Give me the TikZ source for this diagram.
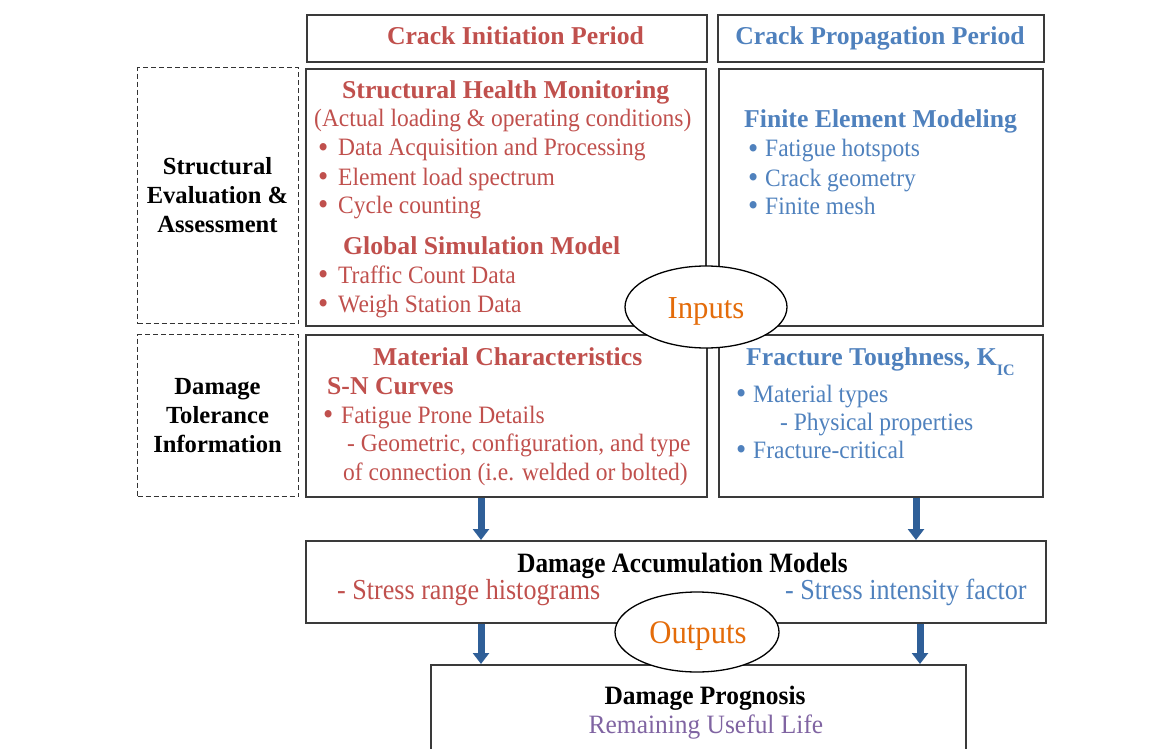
\documentclass[tikz,border=0pt]{standalone}
\usepackage{fontspec}
\setmainfont{Liberation Serif}
\newfontfamily\fsA[FakeStretch=0.94]{Liberation Serif}
\newfontfamily\fsB[FakeStretch=0.90]{Liberation Serif}
\newfontfamily\fsC[FakeStretch=0.96]{Liberation Serif}
\newfontfamily\fsD[FakeStretch=0.93]{Liberation Serif}
\usetikzlibrary{arrows.meta,shapes.geometric}
\definecolor{cred}{HTML}{C0504D}
\definecolor{cblue}{HTML}{4F81BD}
\definecolor{corange}{HTML}{E46C0A}
\definecolor{cpurple}{HTML}{8064A2}
\definecolor{carrow}{HTML}{2F5F98}
\definecolor{cedge}{HTML}{3A3A3A}
\definecolor{cdash}{HTML}{333333}
\newcommand\fsz[1]{\fontsize{#1}{#1}\selectfont}
\newcommand\bl[1]{\makebox[#1pt][l]{\hspace*{-1pt}\raisebox{-1.2pt}{\fsz{31}•}}}
\begin{document}
\begin{tikzpicture}[x=1pt,y=-1pt,
  box/.style={draw=cedge,line width=1.6pt,inner sep=0,anchor=north west},
  dbox/.style={draw=cdash,line width=1.4pt,dash pattern=on 5pt off 3pt,inner sep=0,anchor=north west},
  ell/.style={ellipse,draw=black,line width=1.3pt,fill=white,inner sep=0},
  arr/.style={draw=carrow,line width=7pt,-{Triangle[width=16pt,length=11pt]}},
  tx/.style={inner sep=0,anchor=base west},
  tc/.style={inner sep=0,anchor=base},
  hb/.style={font=\bfseries\fsz{25.7}},
  rg/.style={font=\fsA\fsz{25}},
  lb/.style={tc,font=\bfseries\fsz{24.6}},
]
\useasboundingbox (0,0) rectangle (1167,749);
\clip (0,0) rectangle (1167,749);

% boxes
\node[box,minimum width=400,minimum height=47] (hL) at (306,14) {};
\node[box,minimum width=326,minimum height=47] (hR) at (717,14) {};
\node[box,minimum width=400,minimum height=257] (shm) at (305,68) {};
\node[box,minimum width=324,minimum height=257] (fem) at (718,68) {};
\node[box,minimum width=401,minimum height=162] (mat) at (305,334) {};
\node[box,minimum width=324,minimum height=162] (frac) at (718,334) {};
\node[dbox,minimum width=161,minimum height=256] (d1) at (137,67) {};
\node[dbox,minimum width=161,minimum height=162] (d2) at (137,334) {};
\node[box,minimum width=740,minimum height=82] (acc) at (305,540) {};
\node[box,minimum width=535,minimum height=120] (prog) at (430,664) {};

% arrows
\coordinate (xa) at (481,0);
\coordinate (xb) at (916,0);
\coordinate (xc) at (920,0);
\draw[arr] (mat.south -| xa) -- (acc.north -| xa);
\draw[arr] (frac.south -| xb) -- (acc.north -| xb);
\draw[arr] (acc.south -| xa) -- (prog.north -| xa);
\draw[arr] (acc.south -| xc) -- (prog.north -| xc);

% ellipses
\node[ell,minimum width=162,minimum height=82] (inp) at (706,307) {};
\node[ell,minimum width=164,minimum height=80] (outp) at (697,632) {};
\node[tc,text=corange,font=\fsC\fsz{32}] (inpt) at (706,318) {Inputs};
\node[tc,text=corange,font=\fsD\fsz{33}] (outpt) at (698,643) {Outputs};

% headers
\node[tc,hb,text=cred] (hLt) at (515.5,45) {Crack Initiation Period};
\node[tc,hb,text=cblue] (hRt) at (880,45) {Crack Propagation Period};

% left labels
\node[lb] (l1) at (217.5,175) {Structural};
\node[lb] (l2) at (217.5,203.5) {Evaluation \&};
\node[lb] (l3) at (217.5,232) {Assessment};
\node[lb] (l4) at (217.5,394.5) {Damage};
\node[lb] (l5) at (217.5,423.5) {Tolerance};
\node[lb] (l6) at (217.5,452.5) {Information};

% SHM box
\node[tx,hb,text=cred] (s1) at (342,99) {Structural Health Monitoring};
\node[tx,rg,text=cred] (s2) at (314,127) {(Actual loading \& operating conditions)};
\node[tx,rg,text=cred] (s3) at (319,156) {\bl{19}Data Acquisition and Processing};
\node[tx,rg,text=cred] (s4) at (319,185) {\bl{19}Element load spectrum};
\node[tx,rg,text=cred] (s5) at (319,213) {\bl{19}Cycle counting};
\node[tx,hb,text=cred] (s6) at (343,254) {Global Simulation Model};
\node[tx,rg,text=cred] (s7) at (319,283) {\bl{19}Traffic Count Data};
\node[tx,rg,text=cred] (s8) at (319,312) {\bl{19}Weigh Station Data};

% FEM box
\node[tx,hb,text=cblue] (f1) at (744,128) {Finite Element Modeling};
\node[tx,rg,text=cblue] (f2) at (749,157) {\bl{16}Fatigue hotspots};
\node[tx,rg,text=cblue] (f3) at (749,186) {\bl{16}Crack geometry};
\node[tx,rg,text=cblue] (f4) at (749,214) {\bl{16}Finite mesh};

% Material box
\node[tx,hb,text=cred] (m1) at (373,365) {Material Characteristics};
\node[tx,hb,text=cred] (m2) at (327,394) {S-N Curves};
\node[tx,rg,text=cred] (m3) at (324,423) {\bl{17}Fatigue Prone Details};
\node[tx,rg,text=cred] (m4) at (347,451) {- Geometric, configuration, and type};
\node[tx,rg,text=cred] (m5) at (343,480) {of connection (i.e. welded or bolted)};

% Fracture box
\node[tx,hb,text=cblue] (k1) at (746,365) {Fracture Toughness, K\raisebox{-10pt}{\fsz{16}IC}};
\node[tx,rg,text=cblue] (k2) at (737,402) {\bl{16}Material types};
\node[tx,rg,text=cblue] (k3) at (780,430) {- Physical properties};
\node[tx,rg,text=cblue] (k4) at (737,458) {\bl{16}Fracture-critical};

% accumulation
\node[tc,font=\fsB\bfseries\fsz{28}] (a1) at (682.5,572) {Damage Accumulation Models};
\node[tx,text=cred,font=\fsB\fsz{29}] (a2) at (337,599) {- Stress range histograms};
\node[tx,text=cblue,font=\fsB\fsz{29}] (a3) at (785,599) {- Stress intensity factor};

% prognosis
\node[tc,font=\fsC\bfseries\fsz{26.5}] (p1) at (705,704) {Damage Prognosis};
\node[tc,text=cpurple,font=\fsC\fsz{26.5}] (p2) at (706,733) {Remaining Useful Life};
\end{tikzpicture}
\end{document}
